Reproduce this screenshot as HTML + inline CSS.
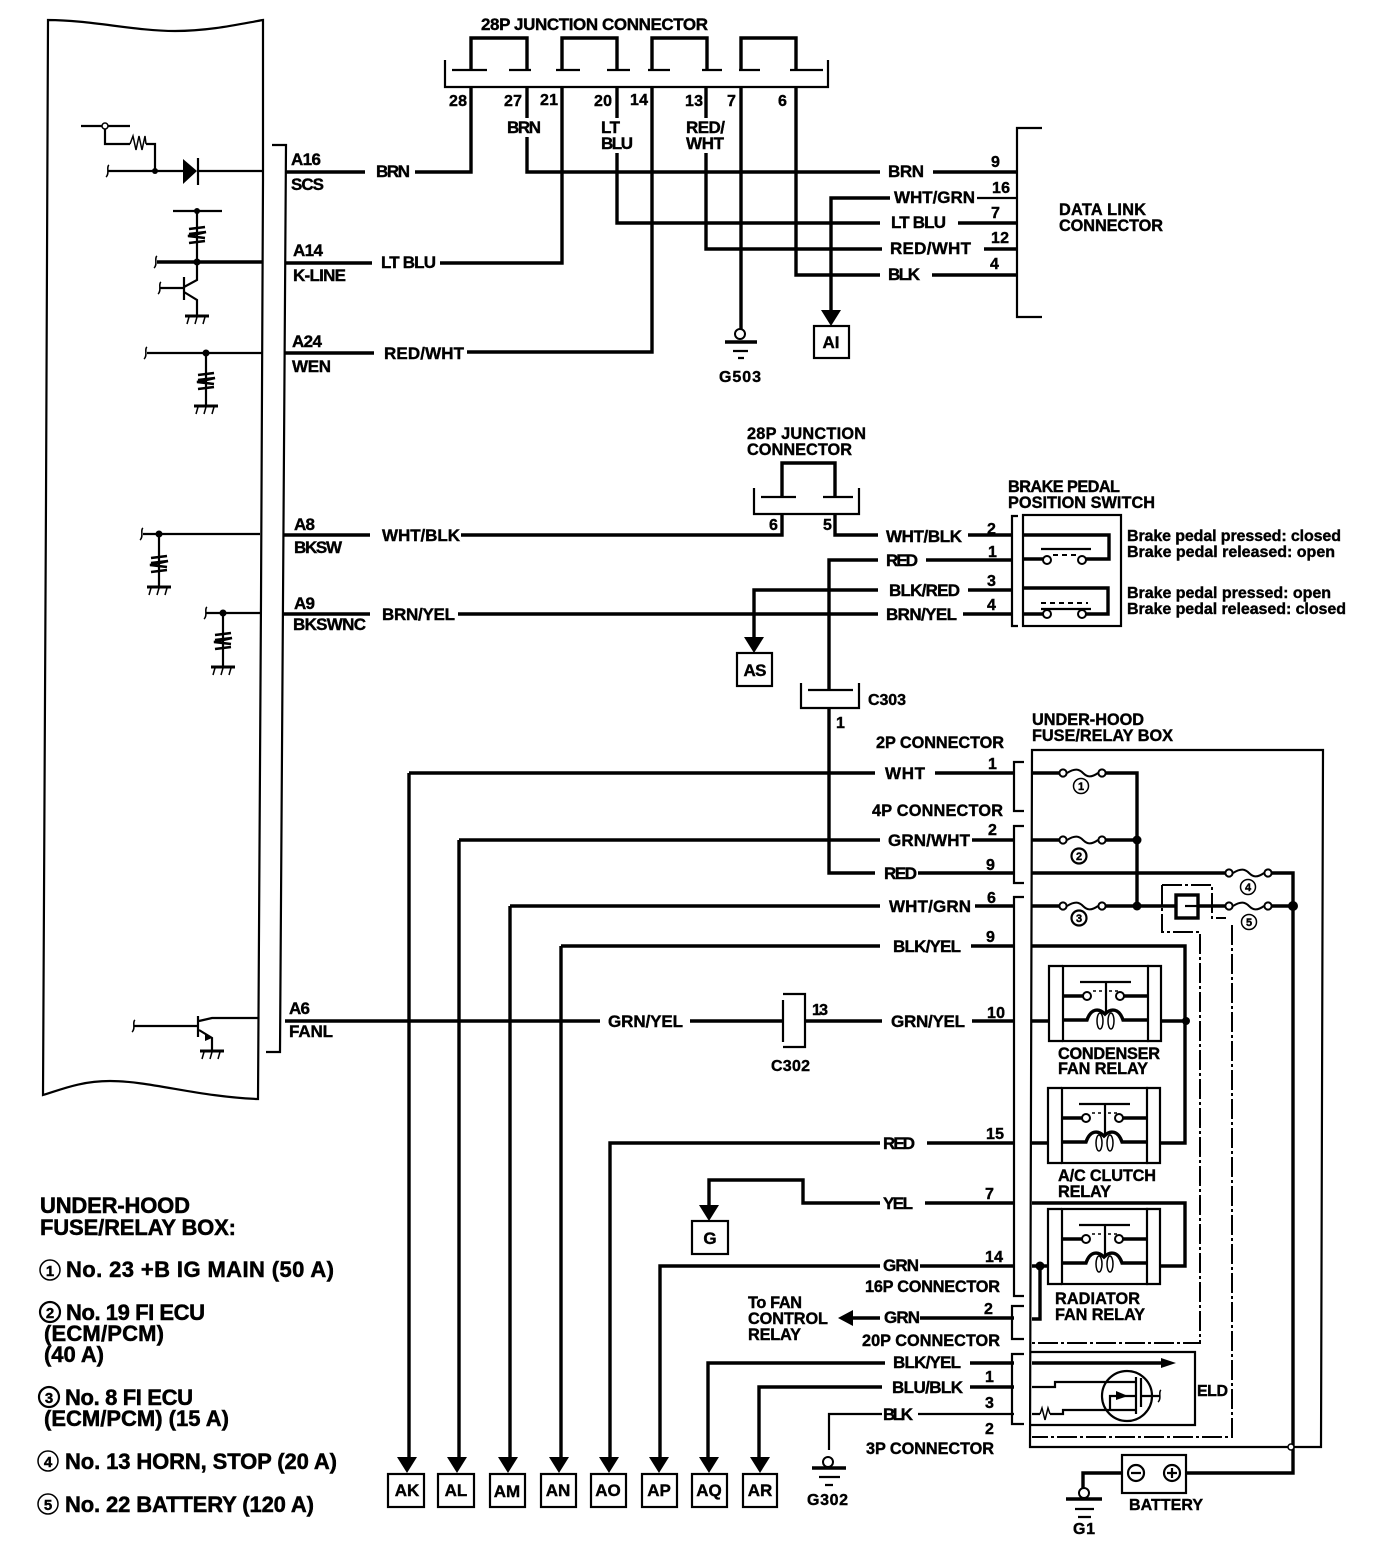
<!DOCTYPE html>
<html><head><meta charset="utf-8"><style>
html,body{margin:0;padding:0;background:#fff}
svg{display:block}
.w,.t,.h,.d{fill:none;stroke:#000;stroke-linejoin:miter}
.w{stroke-width:3.4}.t{stroke-width:2.2}.h{stroke-width:1.5}
.d{stroke-width:2;stroke-dasharray:20 3 3 3}
text{font-family:"Liberation Sans",sans-serif;font-weight:bold;fill:#000;stroke:#000;stroke-width:.4;font-size:17px}
.n{font-size:16px}.l{font-size:22px;stroke-width:.5}.s{font-size:16.3px}
.c{text-anchor:middle}
</style></head><body>
<svg width="1376" height="1548" viewBox="0 0 1376 1548" xmlns="http://www.w3.org/2000/svg">
<defs>
<g id="gnd"><path d="M-12 0H12" stroke="#000" stroke-width="3" fill="none"/><path d="M-8 1L-10 8M0 1L-2 8M8 1L6 8" stroke="#000" stroke-width="1.5" fill="none"/></g>
<g id="res"><path d="M-8 -6L8 -8M-8 -1L9 -3L-9 1L8 3M-8 8L8 6" stroke="#000" stroke-width="2.6" fill="none"/></g>
<path id="brk" d="M1 -6C-2 -4 2 3 -2 6" stroke="#000" stroke-width="1.5" fill="none"/>
<g id="fuse"><path d="M4 0C12 -5 16 -4 20 0S28 5 35 0" stroke="#000" stroke-width="2" fill="none"/><circle cx="0" cy="0" r="3.6" fill="#fff" stroke="#000" stroke-width="2"/><circle cx="39" cy="0" r="3.6" fill="#fff" stroke="#000" stroke-width="2"/></g>
<path id="arr" d="M-10 -16H10L0 0Z" fill="#000"/>
<g id="relay"><path d="M14 0H0V75H14M98 0H112V75H98" class="t"/><rect x="14" y="0" width="85" height="75" class="t"/>
<path d="M31 16H82" class="t"/><path d="M57 16V48" class="t"/><path d="M44 25H54M60 25H70" stroke="#000" stroke-width="1.5" stroke-dasharray="3 3" fill="none"/>
<path d="M14 30H34M74 30H99" class="w"/><circle cx="38" cy="30" r="4" fill="#fff" stroke="#000" stroke-width="2"/><circle cx="71" cy="30" r="4" fill="#fff" stroke="#000" stroke-width="2"/>
<path d="M14 54H38C42 42 50 42 56 48C62 42 70 42 74 54H99" class="w"/><ellipse cx="51" cy="55" rx="3" ry="8" class="h"/><ellipse cx="62" cy="55" rx="3" ry="8" class="h"/></g>
</defs>
<rect width="1376" height="1548" fill="#fff"/>

<!-- ECU panel -->
<path d="M48 20C90 20 135 31 175 31C210 31 240 24 263 20V180L261 600L258 1099C200 1097 150 1081 110 1081C80 1081 60 1090 43 1095L46 500Z" class="t"/>
<path d="M272 145H286L283 600L280 1052H266" class="t"/>

<!-- ECU internals -->
<path d="M81 126H130M105 126V144H130M146 144H155V171" class="t"/><circle cx="105" cy="126" r="3" fill="#fff" stroke="#000" stroke-width="1.5"/>
<path d="M130 144l3 -8l3 14l3 -14l3 14l3 -14l1 8" class="h"/>
<path d="M108 171H183M198 171H263" class="t"/><path d="M183 159L197 171L183 184Z" fill="#000"/><path d="M198 158V185" class="t"/>
<circle cx="155" cy="171" r="3" fill="#000"/><use href="#brk" x="108" y="171"/>
<path d="M173 211H222" class="t"/><circle cx="197" cy="211" r="3" fill="#000"/><path d="M197 211V280L184 287M184 292L197 300V315M184 277V300M160 288H184" class="t"/><use href="#res" x="197" y="235"/>
<path d="M157 262H262" class="w"/><circle cx="197" cy="262" r="3.5" fill="#000"/><use href="#brk" x="156" y="262"/><use href="#brk" x="160" y="288"/><use href="#gnd" x="197" y="316"/>
<path d="M147 353H262M206 353V405" class="t"/><circle cx="206" cy="353" r="3.5" fill="#000"/><use href="#brk" x="146" y="353"/><use href="#res" x="206" y="381"/><use href="#gnd" x="206" y="406"/>
<path d="M143 534H260M159 534V586" class="t"/><circle cx="159" cy="534" r="3.5" fill="#000"/><use href="#brk" x="142" y="534"/><use href="#res" x="159" y="564"/><use href="#gnd" x="159" y="587"/>
<path d="M206 613H260M223 613V667" class="t"/><circle cx="223" cy="613" r="3.5" fill="#000"/><use href="#brk" x="206" y="613"/><use href="#res" x="223" y="641"/><use href="#gnd" x="223" y="667"/>
<path d="M134 1026H198M198 1016V1037M199 1021L212 1018H258M199 1030L212 1038V1050" class="t"/><use href="#brk" x="134" y="1026"/><use href="#gnd" x="212" y="1051"/><path d="M205 1033L212 1038L205 1041Z" fill="#000"/>

<!-- pin labels -->
<text x="291" y="165" textLength="30">A16</text><text x="291" y="190" textLength="33">SCS</text>
<text x="293" y="256" textLength="30">A14</text><text x="293" y="281" textLength="53">K-LINE</text>
<text x="292" y="347" textLength="30">A24</text><text x="292" y="372" textLength="39">WEN</text>
<text x="294" y="530" textLength="21">A8</text><text x="294" y="553" textLength="48">BKSW</text>
<text x="294" y="609" textLength="21">A9</text><text x="293" y="630" textLength="73">BKSWNC</text>
<text x="289" y="1014" textLength="21">A6</text><text x="289" y="1037" textLength="44">FANL</text>

<!-- top junction -->
<text x="481" y="30" textLength="227">28P JUNCTION CONNECTOR</text>
<path d="M445 60V87H828V60" class="t"/>
<path d="M471 70V38H527V70M562 70V38H617V70M652 70V38H707V70M741 70V38H796V70" class="w"/>
<path d="M452 70H487M509 70H531M556 70H580M607 70H630M648 70H670M702 70H722M739 70H760M790 70H823" class="t"/>
<text x="449" y="106" class="n" textLength="18">28</text><text x="504" y="106" class="n" textLength="18">27</text><text x="540" y="105" class="n" textLength="18">21</text><text x="594" y="106" class="n" textLength="18">20</text><text x="630" y="105" class="n" textLength="18">14</text><text x="685" y="106" class="n" textLength="18">13</text><text x="727" y="106" class="n">7</text><text x="778" y="106" class="n">6</text>
<text x="507" y="133" textLength="34">BRN</text>
<text x="601" y="133" textLength="19">LT</text><text x="601" y="149" textLength="32">BLU</text>
<text x="686" y="133" textLength="39">RED/</text><text x="686" y="149" textLength="38">WHT</text>

<path d="M471 87V172H415M365 172H285" class="w"/><text x="376" y="177" textLength="34">BRN</text>
<path d="M527 87V118M527 137V172H880M933 172H1017" class="w"/><text x="888" y="177" textLength="36">BRN</text>
<path d="M562 87V263H440M372 263H285" class="w"/><text x="381" y="268" textLength="55">LT BLU</text>
<path d="M617 87V118M617 153V223H880M958 223H1017" class="w"/><text x="891" y="228" textLength="55">LT BLU</text>
<path d="M652 87V352H467M374 353H285" class="w"/><text x="384" y="359" textLength="80">RED/WHT</text>
<path d="M706 87V118M706 153V249H882M984 249H1017" class="w"/><text x="890" y="254" textLength="81">RED/WHT</text>
<path d="M741 87V329" class="w"/><circle cx="740" cy="334" r="5" fill="#fff" stroke="#000" stroke-width="2"/>
<path d="M725 342H757" class="w"/><path d="M733 351H748M738 358H744" class="t"/><text x="719" y="382" class="n" textLength="42">G503</text>
<path d="M796 87V275H880M932 275H1017" class="w"/><text x="888" y="280" textLength="32">BLK</text>
<path d="M890 198H831V312" class="w"/><path d="M977 198H1017" class="t"/><use href="#arr" x="831" y="326"/><rect x="814" y="326" width="35" height="32" class="t"/><text x="831" y="348" class="c" textLength="17">AI</text>
<text x="894" y="203" textLength="81">WHT/GRN</text>
<path d="M1042 128H1017V317H1042" class="t"/>
<text x="991" y="167" class="n">9</text><text x="992" y="193" class="n" textLength="18">16</text><text x="991" y="218" class="n">7</text><text x="991" y="243" class="n" textLength="18">12</text><text x="990" y="269" class="n">4</text>
<text x="1059" y="215" class="s" textLength="87">DATA LINK</text><text x="1059" y="231" class="s" textLength="104">CONNECTOR</text>

<!-- middle junction -->
<text x="747" y="439" class="s" textLength="119">28P JUNCTION</text><text x="747" y="455" class="s" textLength="105">CONNECTOR</text>
<path d="M754 488V514H859V488" class="t"/><path d="M782 497V463H835V497" class="w"/><path d="M761 497H796M823 497H853" class="t"/>
<text x="769" y="530" class="n">6</text><text x="823" y="530" class="n">5</text>
<path d="M283 535H370M461 535H782V514M835 514V535H878M968 535H1012" class="w"/><text x="382" y="541" textLength="78">WHT/BLK</text><text x="886" y="542" textLength="76">WHT/BLK</text>
<path d="M878 560H829V690M926 560H1012" class="w"/><text x="886" y="566" textLength="32">RED</text>
<path d="M878 590H754V640M968 590H1012" class="w"/><use href="#arr" x="754" y="653"/><text x="889" y="593" dy="3" textLength="71">BLK/RED</text>
<path d="M283 614H370M458 614H878M963 614H1012" class="w"/><text x="382" y="620" textLength="73">BRN/YEL</text><text x="886" y="620" textLength="71">BRN/YEL</text>
<rect x="737" y="653" width="35" height="33" class="t"/><text x="755" y="676" class="c" textLength="23">AS</text>
<path d="M801 683V708H859V683M808 690H853" class="t"/><text x="868" y="705" class="n" textLength="38">C303</text><text x="836" y="728" class="n">1</text>

<!-- switch -->
<text x="1008" y="492" class="s" textLength="112">BRAKE PEDAL</text><text x="1008" y="508" class="s" textLength="147">POSITION SWITCH</text>
<path d="M1018 516H1012V626H1018" class="t"/><rect x="1023" y="515" width="98" height="111" class="t"/>
<path d="M1023 535H1109V559H1086M1044 559H1023M1023 588H1108V614H1086M1044 614H1023" class="w"/>
<path d="M1041 549H1091M1041 609H1091" class="t"/><path d="M1053 555H1078M1041 603H1088" stroke="#000" stroke-width="2" stroke-dasharray="5 4" fill="none"/>
<circle cx="1047" cy="560" r="4" fill="#fff" stroke="#000" stroke-width="2"/><circle cx="1082" cy="560" r="4" fill="#fff" stroke="#000" stroke-width="2"/><circle cx="1047" cy="614" r="4" fill="#fff" stroke="#000" stroke-width="2"/><circle cx="1082" cy="614" r="4" fill="#fff" stroke="#000" stroke-width="2"/>
<text x="987" y="534" class="n">2</text><text x="988" y="557" class="n">1</text><text x="987" y="586" class="n">3</text><text x="987" y="610" class="n">4</text>
<text x="1127" y="541" class="n" textLength="214">Brake pedal pressed: closed</text><text x="1127" y="557" class="n" textLength="208">Brake pedal released: open</text>
<text x="1127" y="598" class="n" textLength="204">Brake pedal pressed: open</text><text x="1127" y="614" class="n" textLength="219">Brake pedal released: closed</text>

<!-- fuse relay box -->
<text x="1032" y="725" class="s" textLength="112">UNDER-HOOD</text><text x="1032" y="741" class="s" textLength="141">FUSE/RELAY BOX</text>
<path d="M1032 750H1323L1321 1447H1030Z" class="t"/>
<text x="876" y="748" class="s" textLength="128">2P CONNECTOR</text><text x="872" y="816" class="s" textLength="131">4P CONNECTOR</text><text x="865" y="1292" class="s" textLength="135">16P CONNECTOR</text><text x="862" y="1346" class="s" textLength="138">20P CONNECTOR</text><text x="866" y="1454" class="s" textLength="128">3P CONNECTOR</text>
<path d="M1024 762H1014V811H1024M1024 826H1014V883H1024M1024 897H1014V1296H1024M1024 1306H1012V1339H1024M1024 1354H1012V1424H1024" class="t"/>

<path d="M409 773V1458M875 773H409M935 773H1014M1032 773H1062M1101 773H1137V906" class="w"/><text x="885" y="779" textLength="40">WHT</text><use href="#fuse" x="1063" y="773"/>
<path d="M459 840V1458M880 840H459M972 840H1014M1032 840H1062M1101 840H1137" class="w"/><text x="888" y="846" textLength="82">GRN/WHT</text><use href="#fuse" x="1063" y="840"/>
<path d="M829 708V873H875M918 873H1014M1032 873H1229M1269 873H1293V1473H1186" class="w"/><text x="884" y="879" textLength="33">RED</text><use href="#fuse" x="1229" y="873"/>
<path d="M510 906V1458M880 906H510M975 906H1014M1032 906H1062M1101 906H1176M1198 906H1229M1269 906H1293" class="w"/><text x="889" y="912" textLength="82">WHT/GRN</text><use href="#fuse" x="1063" y="906"/><use href="#fuse" x="1229" y="906"/>
<rect x="1176" y="895" width="22" height="23" class="w"/><path d="M1185 906H1198" class="t"/>
<circle cx="1137" cy="840" r="4.5" fill="#000"/><circle cx="1137" cy="906" r="4.5" fill="#000"/><circle cx="1293" cy="906" r="5" fill="#000"/>
<path d="M1162 885H1212V918H1226M1232 925V1437H1032M1162 885V932H1200V1343H1032" class="d"/>

<path d="M561 946V1458M880 946H561M971 946H1014M1032 946H1185V1143H1160" class="w"/><text x="893" y="952" textLength="68">BLK/YEL</text>
<path d="M285 1021H600M690 1021H783M805 1021H882M972 1021H1014M1032 1021H1049M1161 1021H1185" class="w"/><text x="608" y="1027" textLength="75">GRN/YEL</text><text x="891" y="1027" textLength="74">GRN/YEL</text>
<path d="M783 994H805V1047H783M783 1000V1042" class="t"/><text x="812" y="1015" class="n" textLength="16">13</text><text x="771" y="1071" class="n" textLength="39">C302</text>
<circle cx="1186" cy="1021" r="4" fill="#000"/>
<use href="#relay" x="1049" y="966"/>
<text x="1058" y="1059" class="s" textLength="102">CONDENSER</text><text x="1058" y="1074" class="s" textLength="90">FAN RELAY</text>
<path d="M610 1458V1143H880M927 1143H1014M1032 1143H1048" class="w"/><text x="883" y="1149" textLength="32">RED</text>
<use href="#relay" x="1048" y="1088"/>
<text x="1058" y="1181" class="s" textLength="98">A/C CLUTCH</text><text x="1058" y="1197" class="s" textLength="53">RELAY</text>
<path d="M880 1203H803V1180H709V1206M925 1203H1014M1032 1203H1185V1266H1161" class="w"/><text x="883" y="1209" textLength="30">YEL</text><use href="#arr" x="709" y="1221"/><rect x="692" y="1221" width="36" height="33" class="t"/><text x="710" y="1244" class="c">G</text>
<path d="M660 1458V1266H880M920 1266H1014M1032 1266H1048M1040 1266V1319H1032" class="w"/><text x="883" y="1271" textLength="36">GRN</text><circle cx="1040" cy="1266" r="4.5" fill="#000"/>
<use href="#relay" x="1048" y="1209"/>
<text x="1055" y="1304" class="s" textLength="85">RADIATOR</text><text x="1055" y="1320" class="s" textLength="90">FAN RELAY</text>
<path d="M852 1318H880M920 1318H1014" class="w"/><path d="M838 1318L853 1310V1326Z" fill="#000"/><text x="884" y="1323" textLength="36">GRN</text>
<text x="748" y="1308" class="s" textLength="54">To FAN</text><text x="748" y="1324" class="s" textLength="80">CONTROL</text><text x="748" y="1340" class="s" textLength="53">RELAY</text>

<path d="M708 1458V1363H885M970 1363H1014M1032 1363H1165" class="w"/><text x="893" y="1368" textLength="68">BLK/YEL</text><path d="M1161 1358L1176 1363L1161 1368Z" fill="#000"/>
<path d="M759 1458V1387H882M970 1387H1014" class="w"/><text x="892" y="1393" textLength="71">BLU/BLK</text>
<path d="M882 1414H829V1450M918 1414H1014" class="t"/><text x="883" y="1420" textLength="30">BLK</text>
<path d="M1030 1352H1195V1425H1030" class="t"/>
<path d="M1032 1387H1055V1382H1136M1032 1414H1040M1050 1414H1063V1410H1136" class="t"/>
<path d="M1040 1414l2 -6l3 12l3 -12l2 6" class="h"/>
<circle cx="1127" cy="1396" r="25" class="t"/><path d="M1136 1377V1414M1141 1378V1407" class="t"/><path d="M1141 1396H1160M1135 1396H1110V1410" class="t"/><path d="M1116 1391L1128 1396L1116 1400Z" fill="#000"/><use href="#brk" x="1160" y="1396"/>
<text x="1197" y="1396" class="n" textLength="31">ELD</text>
<text x="988" y="769" class="n">1</text><text x="988" y="835" class="n">2</text><text x="986" y="870" class="n">9</text><text x="987" y="903" class="n">6</text><text x="986" y="942" class="n">9</text><text x="987" y="1018" class="n" textLength="18">10</text><text x="986" y="1139" class="n" textLength="18">15</text><text x="985" y="1199" class="n">7</text><text x="985" y="1262" class="n" textLength="18">14</text><text x="984" y="1314" class="n">2</text><text x="985" y="1382" class="n">1</text><text x="985" y="1408" class="n">3</text><text x="985" y="1434" class="n">2</text>

<!-- fuse numbers -->
<circle cx="1081" cy="786" r="7.5" class="h"/><text x="1081" y="790" class="c" style="font-size:11px">1</text>
<circle cx="1079" cy="856" r="7.5" class="t"/><text x="1079" y="860" class="c" style="font-size:11px">2</text>
<circle cx="1079" cy="918" r="7.5" class="t"/><text x="1079" y="922" class="c" style="font-size:11px">3</text>
<circle cx="1248" cy="887" r="7.5" class="h"/><text x="1248" y="891" class="c" style="font-size:11px">4</text>
<circle cx="1249" cy="922" r="7.5" class="h"/><text x="1249" y="926" class="c" style="font-size:11px">5</text>

<!-- bottom terminals -->
<use href="#arr" x="407" y="1473"/><use href="#arr" x="457" y="1473"/><use href="#arr" x="508" y="1473"/><use href="#arr" x="559" y="1473"/><use href="#arr" x="609" y="1473"/><use href="#arr" x="659" y="1473"/><use href="#arr" x="709" y="1473"/><use href="#arr" x="760" y="1473"/>
<rect x="388" y="1474" width="36" height="33" class="t"/><rect x="438" y="1474" width="36" height="33" class="t"/><rect x="490" y="1474" width="35" height="33" class="t"/><rect x="541" y="1474" width="35" height="33" class="t"/><rect x="591" y="1474" width="35" height="33" class="t"/><rect x="642" y="1474" width="35" height="33" class="t"/><rect x="692" y="1474" width="35" height="33" class="t"/><rect x="743" y="1474" width="34" height="33" class="t"/>
<text x="407" y="1496" class="c">AK</text><text x="456" y="1496" class="c">AL</text><text x="507" y="1497" class="c">AM</text><text x="558" y="1496" class="c">AN</text><text x="608" y="1496" class="c">AO</text><text x="659" y="1496" class="c">AP</text><text x="709" y="1496" class="c">AQ</text><text x="760" y="1496" class="c">AR</text>
<circle cx="828" cy="1462" r="5" fill="#fff" stroke="#000" stroke-width="2"/><path d="M812 1468H846" class="w"/><path d="M819 1477H840M825 1485H833" class="t"/><text x="807" y="1505" class="n" textLength="41">G302</text>

<!-- battery -->
<rect x="1122" y="1455" width="64" height="38" class="t"/><circle cx="1136" cy="1473" r="8" class="t"/><circle cx="1172" cy="1473" r="8" class="t"/><path d="M1131 1473H1141M1167 1473H1177M1172 1468V1478" class="t"/>
<path d="M1122 1473H1083V1489" class="w"/><circle cx="1084" cy="1493" r="5" fill="#fff" stroke="#000" stroke-width="2"/><path d="M1066 1499H1102" class="w"/><path d="M1075 1509H1094M1078 1517H1091" class="t"/><text x="1073" y="1534" class="n" textLength="22">G1</text>
<text x="1129" y="1510" class="n" textLength="74">BATTERY</text><circle cx="1291" cy="1447" r="3" fill="#fff" stroke="#000" stroke-width="1.5"/>

<!-- legend -->
<text x="40" y="1213" class="l" textLength="150">UNDER-HOOD</text><text x="40" y="1235" class="l" textLength="196">FUSE/RELAY BOX:</text>
<circle cx="50" cy="1270" r="10" class="h"/><text x="50" y="1276" class="c" style="font-size:15px">1</text><text x="66" y="1277" class="l" textLength="268">No. 23 +B IG MAIN (50 A)</text>
<circle cx="50" cy="1312" r="10" class="t"/><text x="50" y="1318" class="c" style="font-size:15px">2</text><text x="66" y="1320" class="l" textLength="139">No. 19 FI ECU</text>
<text x="44" y="1341" class="l" textLength="120">(ECM/PCM)</text><text x="44" y="1362" class="l" textLength="60">(40 A)</text>
<circle cx="49" cy="1397" r="10" class="t"/><text x="49" y="1403" class="c" style="font-size:15px">3</text><text x="65" y="1405" class="l" textLength="128">No. 8 FI ECU</text>
<text x="44" y="1426" class="l" textLength="185">(ECM/PCM) (15 A)</text>
<circle cx="48" cy="1461" r="10" class="h"/><text x="48" y="1467" class="c" style="font-size:15px">4</text><text x="65" y="1469" class="l" textLength="272">No. 13 HORN, STOP (20 A)</text>
<circle cx="48" cy="1504" r="10" class="h"/><text x="48" y="1510" class="c" style="font-size:15px">5</text><text x="65" y="1512" class="l" textLength="249">No. 22 BATTERY (120 A)</text>
</svg>
</body></html>
